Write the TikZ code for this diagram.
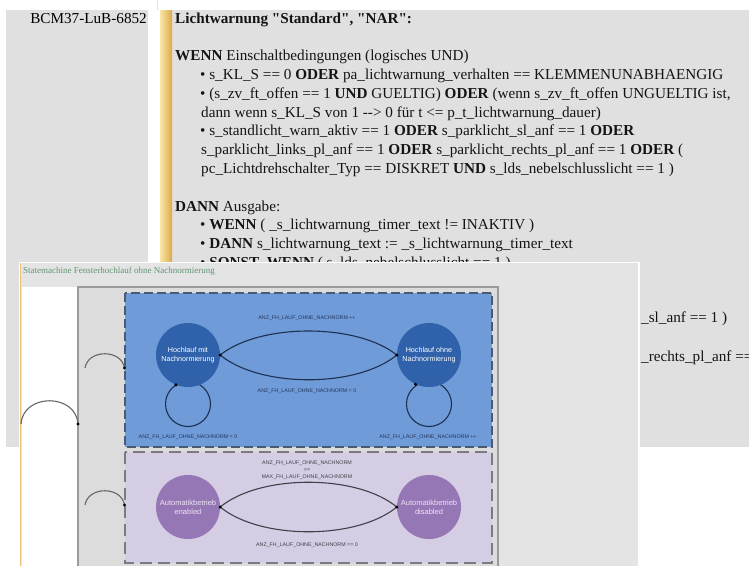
\documentclass[tikz,border=0pt]{standalone}
\usepackage{fontspec}
\setmainfont{Liberation Serif}[Ligatures=TeXOff]
\newfontfamily\lsans{Liberation Sans}
\usetikzlibrary{calc}
\definecolor{bggray}{HTML}{E0E0E0}
\definecolor{shotgray}{HTML}{E4E4E4}
\definecolor{boxgray}{HTML}{DCDCDC}
\definecolor{boxline}{HTML}{9A9A9A}
\definecolor{goldA}{HTML}{F8E6A6}
\definecolor{goldB}{HTML}{DDA94A}
\definecolor{edgegold}{HTML}{E8C27A}
\definecolor{titlegreen}{HTML}{5F9470}
\definecolor{bluebox}{HTML}{6F9BD9}
\definecolor{bluenode}{HTML}{2F62AA}
\definecolor{blueline}{HTML}{1E3050}
\definecolor{bluedash}{HTML}{4A5A70}
\definecolor{purplebox}{HTML}{D5CDE3}
\definecolor{purplenode}{HTML}{9677B5}
\definecolor{purpletext}{HTML}{EDE4F5}
\definecolor{purpledash}{HTML}{7A7A80}
\definecolor{labblue}{HTML}{24365A}
\definecolor{labgray}{HTML}{404048}
\tikzset{
  txt/.style={anchor=base west, inner sep=0pt, font=\fontsize{15.2}{18.8}\selectfont, text=black!92},
  bstate/.style={circle, fill=bluenode, minimum size=64pt, inner sep=0pt, text=white, align=center, font=\lsans\fontsize{7.2}{9}\selectfont},
  pstate/.style={circle, fill=purplenode, minimum size=64pt, inner sep=0pt, text=purpletext, align=center, font=\lsans\fontsize{7.5}{9}\selectfont},
  blab/.style={font=\lsans\fontsize{5.3}{7}\selectfont, text=labblue, inner sep=0pt, align=center},
  plab/.style={font=\lsans\fontsize{5.3}{7}\selectfont, text=labgray, inner sep=0pt, align=center},
  btrans/.style={draw=blueline, line width=1.1pt},
  ptrans/.style={draw=labgray, line width=1.1pt},
  initarc/.style={draw=black!60, line width=1.1pt},
  tdot/.style={fill=black},
  bluedashed/.style={draw=bluedash, line width=1.4pt, dash pattern=on 9pt off 4pt},
  purpledashed/.style={draw=purpledash, line width=1.4pt, dash pattern=on 12pt off 6pt}
}
\begin{document}
\begin{tikzpicture}[x=1pt,y=-1pt]
\useasboundingbox (0,0) rectangle (749,566);
\fill[white] (0,0) rectangle (749,566);
% ---------- background screenshot ----------
\fill[bggray] (6,10) rectangle (148,447);
\fill[bggray] (172,10) rectangle (749,447);
\shade[left color=goldA, right color=goldB] (160,10) rectangle (172,447);
\draw[black!12, line width=0.8pt] (157,0) -- (157,10);

\node[anchor=base east, inner sep=0pt, font=\fontsize{15.2}{18.8}\selectfont] (id) at (147,23) {BCM37-LuB-6852};
\node[txt] (l0) at (175,23) {\textbf{Lichtwarnung "Standard", "NAR":}};
\node[txt] (l2) at (175,60.6) {\textbf{WENN} Einschaltbedingungen (logisches UND)};
\node[txt] (l3) at (200,79.4) {• s\_KL\_S == 0 \textbf{ODER} pa\_lichtwarnung\_verhalten == KLEMMENUNABHAENGIG};
\node[txt] (l4) at (200,98.2) {• (s\_zv\_ft\_offen == 1 \textbf{UND} GUELTIG) \textbf{ODER} (wenn s\_zv\_ft\_offen UNGUELTIG ist,};
\node[txt] (l5) at (201,117) {dann wenn s\_KL\_S von 1 --> 0 für t <= p\_t\_lichtwarnung\_dauer)};
\node[txt] (l6) at (200,135.8) {• s\_standlicht\_warn\_aktiv == 1 \textbf{ODER} s\_parklicht\_sl\_anf == 1 \textbf{ODER}};
\node[txt] (l7) at (201,154.6) {s\_parklicht\_links\_pl\_anf == 1 \textbf{ODER} s\_parklicht\_rechts\_pl\_anf == 1 \textbf{ODER} (};
\node[txt] (l8) at (201,173.4) {pc\_Lichtdrehschalter\_Typ == DISKRET \textbf{UND} s\_lds\_nebelschlusslicht == 1 )};
\node[txt] (l10) at (175,211) {\textbf{DANN} Ausgabe:};
\node[txt] (l11) at (200,229.8) {• \textbf{WENN} ( \_s\_lichtwarnung\_timer\_text != INAKTIV )};
\node[txt] (l12) at (200,248.6) {• \textbf{DANN} s\_lichtwarnung\_text := \_s\_lichtwarnung\_timer\_text};
\node[txt] (l13) at (200,267.4) {• \textbf{SONST\_WENN} ( s\_lds\_nebelschlusslicht == 1 )};
\node[txt] (r16) at (641,322.5) {\_sl\_anf == 1 )};
\node[txt] (r18) at (641,361) {\_rechts\_pl\_anf ==};

% ---------- overlay screenshot ----------
\fill[white] (18.5,261.5) rectangle (639.5,566);
\fill[shotgray] (20,263) rectangle (638,566);
\draw[edgegold, line width=1.4pt] (20.7,263) -- (20.7,566);
\node[anchor=base west, inner sep=0pt, font=\fontsize{9}{10}\selectfont, text=titlegreen] (st) at (23,273.5) {Statemachine Fensterhochlauf ohne Nachnormierung};
\fill[white] (22,287) rectangle (78,566);
\fill[boxgray] (78,287) rectangle (498,566);
\draw[boxline, line width=1.2pt] (78,566) -- (78,287) -- (498,287) -- (498,566);

% blue region
\fill[bluebox] (125,293) rectangle (492,447);
\draw[bluedashed] (125,293) rectangle (492,447);
% purple region
\fill[purplebox] (125,452) rectangle (492,563);
\draw[purpledashed] (125,452) rectangle (492,563);

% states
\coordinate (hmc) at (188,355);
\coordinate (hoc) at (429,355);
\draw[btrans] ($(hmc)+(0,49)$) circle[radius=22.5pt];
\draw[btrans] ($(hoc)+(0,49)$) circle[radius=22.5pt];
\node[bstate] (hm) at (hmc) {Hochlauf mit\\Nachnormierung};
\node[bstate] (ho) at (hoc) {Hochlauf ohne\\Nachnormierung};
\node[pstate] (ae) at (188,507) {Automatikbetrieb\\enabled};
\node[pstate] (ad) at (429,507) {Automatikbetrieb\\disabled};

% transitions
\draw[btrans] (hm.east) .. controls +(40,-32) and +(-40,-32) .. (ho.west);
\draw[btrans] (hm.east) .. controls +(40,33) and +(-40,33) .. (ho.west);
\draw[ptrans] (ae.east) .. controls +(40,-33) and +(-40,-33) .. (ad.west);
\draw[ptrans] (ae.east) .. controls +(40,33) and +(-40,33) .. (ad.west);
\fill[tdot] (hm.east) circle[radius=1.7pt];
\fill[tdot] (ho.west) circle[radius=1.7pt];
\fill[tdot] (hm.248) circle[radius=1.7pt];
\fill[tdot] (ho.245) circle[radius=1.7pt];
\fill[tdot] (ae.east) circle[radius=1.7pt];
\fill[tdot] (ad.west) circle[radius=1.7pt];

% initial arcs
\coordinate (ia1) at (21,424);
\coordinate (ib1) at (78,424);
\coordinate (ia2) at (85,368);
\coordinate (ib2) at (124.5,368);
\coordinate (ia3) at (85,505);
\coordinate (ib3) at (124.5,505);
\draw[initarc] (ia1) .. controls +(2,-31) and +(-2,-31) .. (ib1);
\draw[initarc] (ia2) .. controls +(3,-19) and +(-3,-19) .. (ib2);
\draw[initarc] (ia3) .. controls +(3,-19) and +(-3,-19) .. (ib3);
\fill[tdot] (ib1) circle[radius=1.7pt];
\fill[tdot] (ib2) circle[radius=1.7pt];
\fill[tdot] (ib3) circle[radius=1.7pt];

% labels
\node[blab] (lb1) at (307,318) {ANZ\_FH\_LAUF\_OHNE\_NACHNORM ++};
\node[blab] (lb2) at (307,391) {ANZ\_FH\_LAUF\_OHNE\_NACHNORM = 0};
\node[blab] (lb3) at (188,437) {ANZ\_FH\_LAUF\_OHNE\_NACHNORM = 0};
\node[blab] (lb4) at (428,437) {ANZ\_FH\_LAUF\_OHNE\_NACHNORM ++};
\node[plab] (lp1) at (307,470) {ANZ\_FH\_LAUF\_OHNE\_NACHNORM\\>=\\MAX\_FH\_LAUF\_OHNE\_NACHNORM};
\node[plab] (lp2) at (307,545) {ANZ\_FH\_LAUF\_OHNE\_NACHNORM == 0};
\end{tikzpicture}
\end{document}
